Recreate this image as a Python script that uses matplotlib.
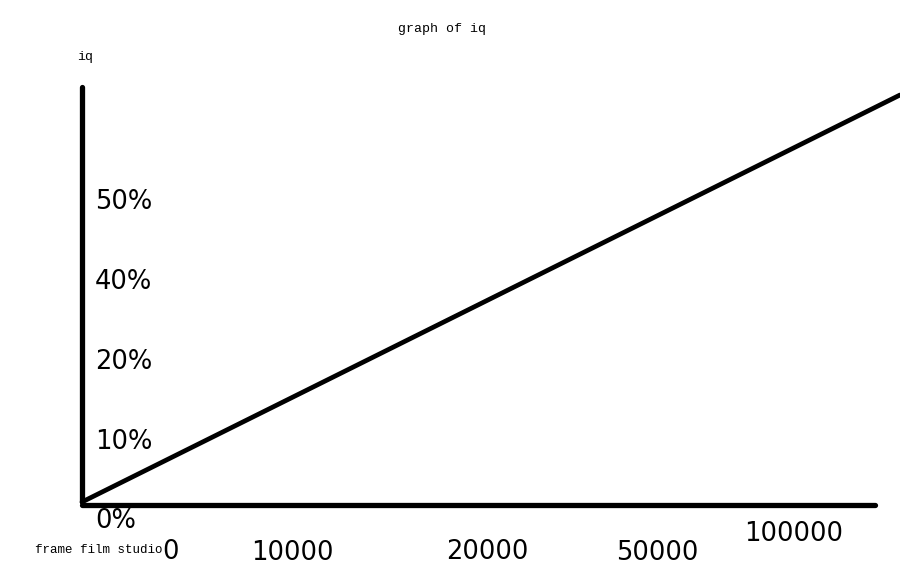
import matplotlib.pyplot as plt

# sketch strokes, in pixel units of the drawing
yaxis_x = [82, 82]
yaxis_y = [87, 502]
xaxis_x = [82, 875]
xaxis_y = [505, 505]
line_x = [82, 900]
line_y = [502, 95]

ylabels = ['50%', '40%', '20%', '10%', '0%']
xlabels = ['0', '10000', '20000', '50000', '100000']

fig = plt.figure(figsize=(9, 5.73), dpi=100)
ax = fig.add_axes([0, 0, 1, 1])
ax.set_xlim(0, 900)
ax.set_ylim(573, 0)
ax.axis('off')

ax.plot(yaxis_x, yaxis_y, color='black', lw=3.8, solid_capstyle='round')
ax.plot(xaxis_x, xaxis_y, color='black', lw=3.8, solid_capstyle='round')
ax.plot(line_x, line_y, color='black', lw=3.4, solid_capstyle='round')

hand = 'DejaVu Sans'
mono = 'Liberation Mono'

ax.text(35, 550, 'frame film studio', fontsize=9, family=mono, ha='left', va='center')

ypos = [202, 282, 362, 442, 521]
for lab, y in zip(ylabels, ypos):
    ax.text(95, y, lab, fontsize=18.5, family=hand, va='center', ha='left')

xpos = [(170, 552), (292, 553), (487, 552), (657, 553), (794, 534)]
for lab, (x, y) in zip(xlabels, xpos):
    ax.text(x, y, lab, fontsize=18.5, family=hand, va='center', ha='center')

ax.text(442, 29, 'graph of iq', fontsize=9.5, family=mono, ha='center', va='center')
ax.text(85, 57, 'iq', fontsize=9.5, family=mono, ha='center', va='center')

fig.savefig('out.png', dpi=100)
